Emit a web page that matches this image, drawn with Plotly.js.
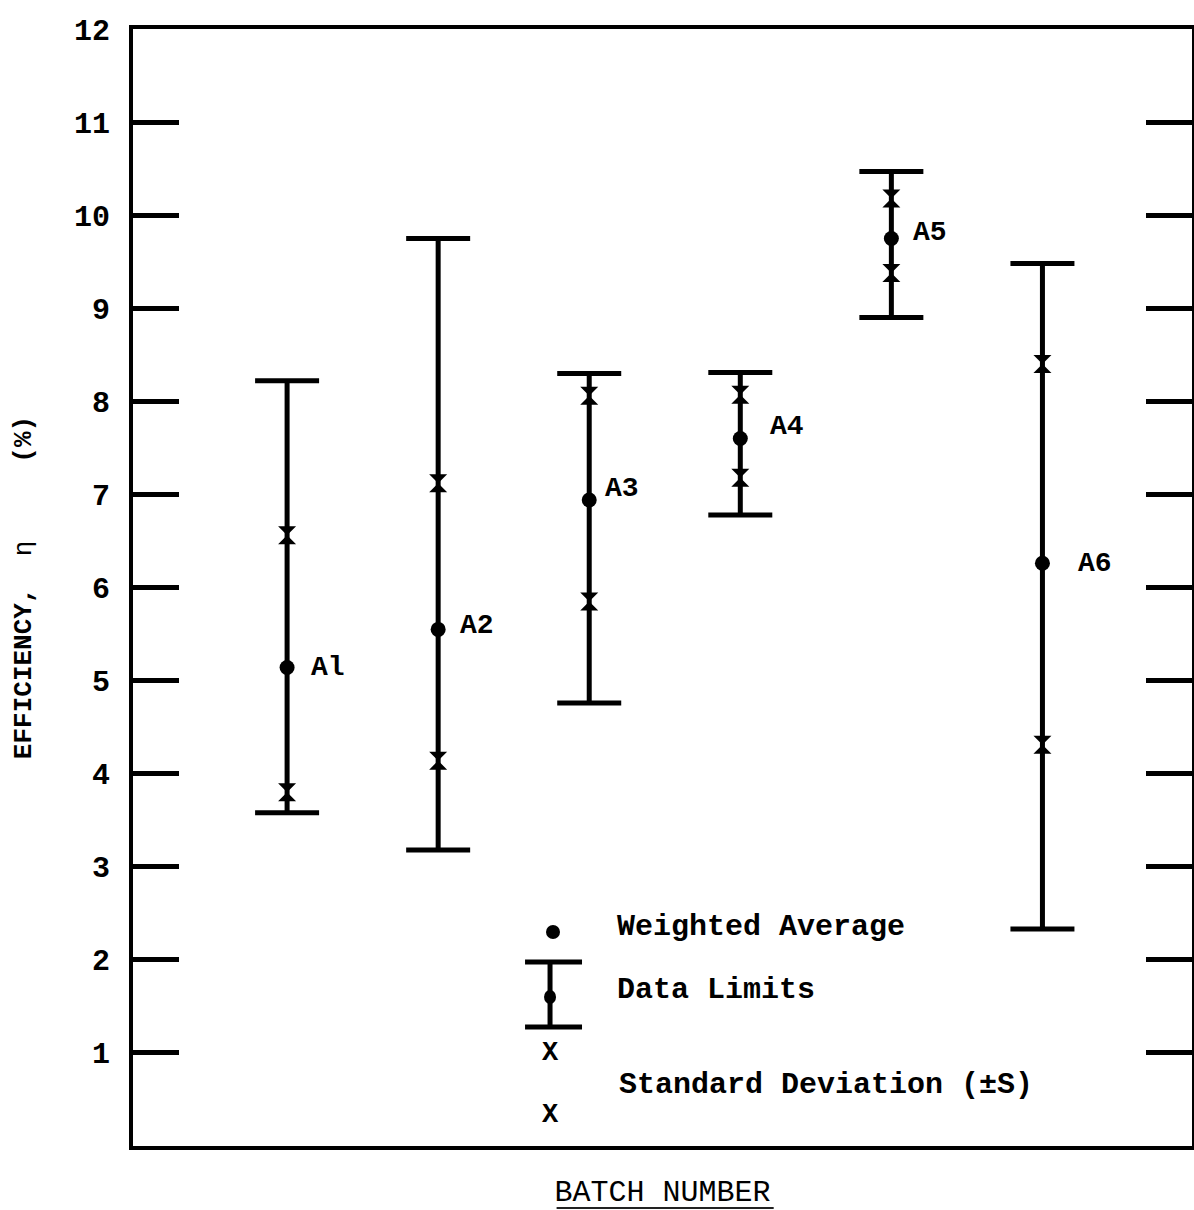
<!DOCTYPE html>
<html>
<head>
<meta charset="utf-8">
<script src="https://cdn.plot.ly/plotly-3.0.1.min.js"></script>
<style>html,body{margin:0;padding:0;background:#fff;}</style>
</head>
<body>
<div id="chart" style="width:1194px;height:1210px;"></div>
<script>
// ---- data ----
var batches     = ['A1', 'A2', 'A3', 'A4', 'A5', 'A6'];
var weightedAvg = [5.14, 5.55, 6.94, 7.60, 9.75, 6.26];
var dataMax     = [8.22, 9.75, 8.30, 8.31, 10.47, 9.48];
var dataMin     = [3.58, 3.18, 4.76, 6.78, 8.90, 2.33];
var sdHigh      = [6.56, 7.12, 8.06, 8.07, 10.18, 8.40];
var sdLow       = [3.80, 4.14, 5.85, 7.18, 9.38, 4.31];
var yTicks      = [1, 2, 3, 4, 5, 6, 7, 8, 9, 10, 11, 12];

// ---- styling ----
var FONT = '"Liberation Mono", "Courier New", "DejaVu Sans Mono", monospace';
var INK = '#000000';
var labelShift = [{x: 22, y: 0}, {x: 20, y: 4}, {x: 14, y: 12}, {x: 28, y: 12}, {x: 20, y: 6}, {x: 34, y: 0}];

var limitsTrace = {
  x: batches,
  y: weightedAvg,
  type: 'scatter',
  mode: 'markers',
  marker: {symbol: 'circle', size: 15, color: INK},
  error_y: {
    type: 'data',
    symmetric: false,
    array: dataMax.map(function (v, i) { return v - weightedAvg[i]; }),
    arrayminus: dataMin.map(function (v, i) { return weightedAvg[i] - v; }),
    color: INK,
    thickness: 5,
    width: 32
  },
  hoverinfo: 'x+y',
  showlegend: false
};

var sdTraceHigh = {
  x: batches, y: sdHigh, type: 'scatter', mode: 'markers',
  marker: {symbol: 'hourglass', size: 18, color: INK, line: {width: 0}},
  showlegend: false
};
var sdTraceLow = {
  x: batches, y: sdLow, type: 'scatter', mode: 'markers',
  marker: {symbol: 'hourglass', size: 18, color: INK, line: {width: 0}},
  showlegend: false
};

var annotations = batches.map(function (b, i) {
  return {
    x: b, y: weightedAvg[i], xref: 'x', yref: 'y',
    text: b.replace('1', 'l'), showarrow: false,
    xanchor: 'left', yanchor: 'middle',
    xshift: labelShift[i].x, yshift: labelShift[i].y,
    font: {family: FONT, size: 28, color: INK, weight: 'bold'}
  };
});

function legendText(txt, xp, yp) {
  return {x: xp, y: yp, xref: 'paper', yref: 'paper', text: txt, showarrow: false,
          xanchor: 'left', yanchor: 'middle',
          font: {family: FONT, size: 30, color: INK, weight: 'bold'}};
}
annotations.push(legendText('Weighted Average', 0.4551, 0.1961));
annotations.push(legendText('Data Limits', 0.4551, 0.1397));
annotations.push(legendText('Standard Deviation (\u00B1S)', 0.4570, 0.0546));
annotations.push({x: 0.3938, y: 0.0833, xref: 'paper', yref: 'paper', text: 'X', showarrow: false,
  xanchor: 'center', yanchor: 'middle', font: {family: FONT, size: 27, color: INK, weight: 'bold'}});
annotations.push({x: 0.3938, y: 0.0278, xref: 'paper', yref: 'paper', text: 'X', showarrow: false,
  xanchor: 'center', yanchor: 'middle', font: {family: FONT, size: 27, color: INK, weight: 'bold'}});

var shapes = [
  // legend: weighted average dot
  {type: 'circle', xref: 'paper', yref: 'paper', xsizemode: 'pixel', ysizemode: 'pixel',
   xanchor: 0.3966, yanchor: 0.1916, x0: -7, x1: 7, y0: -7, y1: 7,
   fillcolor: INK, line: {width: 0}},
  // legend: data limits bar
  {type: 'line', xref: 'paper', yref: 'paper', x0: 0.3938, x1: 0.3938, y0: 0.1065, y1: 0.1647,
   line: {color: INK, width: 5}},
  {type: 'line', xref: 'paper', yref: 'paper', x0: 0.3702, x1: 0.4240, y0: 0.1647, y1: 0.1647,
   line: {color: INK, width: 5}},
  {type: 'line', xref: 'paper', yref: 'paper', x0: 0.3702, x1: 0.4240, y0: 0.1065, y1: 0.1065,
   line: {color: INK, width: 5}},
  {type: 'circle', xref: 'paper', yref: 'paper', xsizemode: 'pixel', ysizemode: 'pixel',
   xanchor: 0.3938, yanchor: 0.1334, x0: -6, x1: 6, y0: -7, y1: 7,
   fillcolor: INK, line: {width: 0}},
  // underline of x-axis title
  {type: 'line', xref: 'paper', yref: 'paper', x0: 0.400, x1: 0.605, y0: -0.0555, y1: -0.0555,
   line: {color: '#222', width: 2}}
];

var layout = {
  width: 1194, height: 1210,
  paper_bgcolor: '#ffffff', plot_bgcolor: '#ffffff',
  margin: {l: 133, r: 2, t: 29, b: 64},
  font: {family: FONT, color: INK},
  showlegend: false,
  xaxis: {
    type: 'category',
    range: [-1.02, 5.99],
    showticklabels: false, ticks: '',
    showgrid: false, zeroline: false,
    showline: true, mirror: true, linecolor: INK, linewidth: 4,
    title: {text: 'BATCH NUMBER', standoff: 32,
            font: {family: FONT, size: 30, color: INK}},
    automargin: false
  },
  yaxis: {
    range: [0, 12],
    tickmode: 'array', tickvals: yTicks, ticktext: yTicks.map(String),
    ticks: 'inside', ticklen: 46, tickwidth: 5, tickcolor: INK,
    showgrid: false, zeroline: false,
    showline: true, mirror: 'ticks', linecolor: INK, linewidth: 4,
    ticklabelstandoff: 13,
    tickfont: {family: FONT, size: 30, color: INK, weight: 'bold'},
    title: {text: 'EFFICIENCY,\u00A0\u00A0<span style="font-weight:normal">\u03B7</span>\u00A0\u00A0\u00A0\u00A0\u00A0(%)',
            standoff: 36,
            font: {family: FONT, size: 26, color: INK, weight: 'bold'}},
    automargin: false
  },
  annotations: annotations,
  shapes: shapes
};

Plotly.newPlot('chart', [limitsTrace, sdTraceHigh, sdTraceLow], layout, {displayModeBar: false, staticPlot: true});
</script>
</body>
</html>
